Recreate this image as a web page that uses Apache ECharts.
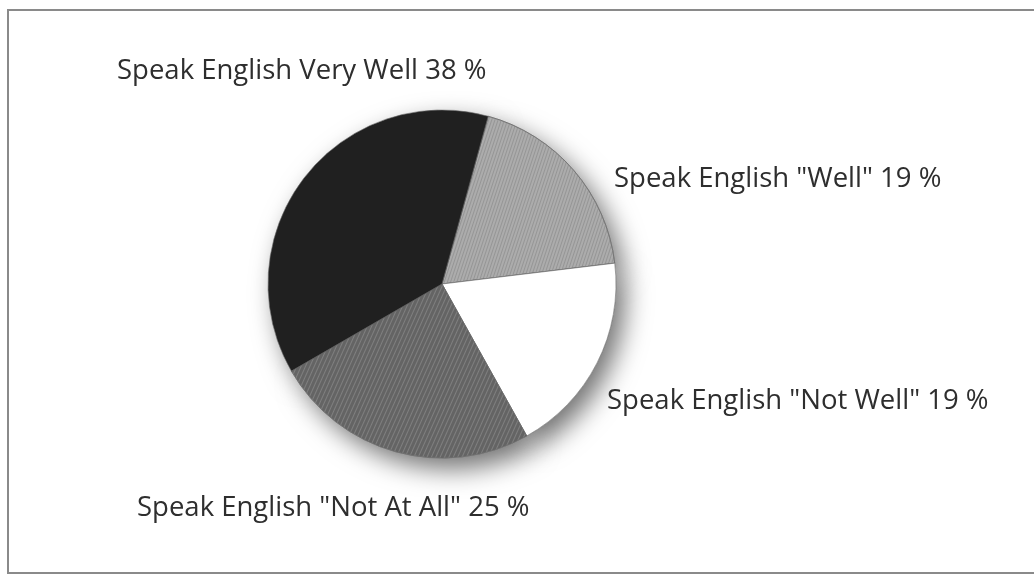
<!DOCTYPE html>
<html>
<head>
<meta charset="utf-8">
<script src="https://cdn.jsdelivr.net/npm/echarts@6/dist/echarts.min.js"></script>
<style>
  html, body { margin: 0; padding: 0; background: #fff; }
  #chart { width: 1034px; height: 576px; }
</style>
</head>
<body>
<div id="chart"></div>
<script>
// slices in clockwise order, starting at the top right
const categories = [
    'Speak English "Well"',
    'Speak English "Not Well"',
    'Speak English "Not At All"',
    'Speak English Very Well'
];
const percents = [19, 19, 25, 38];

const sliceColors = ['#acacac', '#ffffff', '#646464', '#202020'];

// where each label sits (left edge, vertical middle)
const labelSpots = [
    { x: 614, y: 179 },
    { x: 607, y: 401 },
    { x: 137, y: 508 },
    { x: 117, y: 71 }
];

const chart = echarts.init(document.getElementById('chart'), null, { renderer: 'canvas' });

const pieData = categories.map((name, i) => {
    const item = {
        name: name,
        value: percents[i],
        itemStyle: { color: sliceColors[i] }
    };
    if (i === 0) {
        item.itemStyle.decal = {
            symbol: 'rect', color: 'rgba(140,140,140,0.7)',
            dashArrayX: [1, 0], dashArrayY: [1, 2], rotation: -1.25
        };
    }
    if (i === 2) {
        item.itemStyle.decal = {
            symbol: 'rect', color: 'rgba(150,150,150,0.55)',
            dashArrayX: [1, 0], dashArrayY: [1, 3], rotation: -1.15
        };
    }
    return item;
});

const option = {
    backgroundColor: '#ffffff',
    animation: false,
    graphic: [{
        type: 'rect',
        shape: { x: 8, y: 10, width: 1040, height: 563 },
        style: { fill: 'none', stroke: '#8a8a8a', lineWidth: 2 },
        silent: true
    }],
    series: [
        { // shadow underneath
            type: 'pie',
            center: [442, 284],
            radius: 174,
            startAngle: 74.6,
            silent: true,
            z: 1,
            label: { show: false },
            labelLine: { show: false },
            data: percents.map(v => ({ value: v })),
            itemStyle: {
                color: '#ffffff',
                shadowBlur: 26,
                shadowOffsetX: 9,
                shadowOffsetY: 11,
                shadowColor: 'rgba(0,0,0,0.55)'
            }
        },
        {
            type: 'pie',
            center: [442, 284],
            radius: 174,
            startAngle: 74.6,
            z: 2,
            data: pieData,
            itemStyle: { borderColor: '#666', borderWidth: 0.6 },
            label: {
                show: true,
                position: 'outside',
                formatter: p => p.name + ' ' + p.value + ' %',
                color: '#2e2e2e',
                fontFamily: 'Open Sans',
                fontSize: 27.5,
                overflow: 'none'
            },
            labelLine: { show: false },
            labelLayout: p => ({
                x: labelSpots[p.dataIndex].x,
                y: labelSpots[p.dataIndex].y,
                align: 'left',
                verticalAlign: 'middle'
            })
        }
    ]
};

chart.setOption(option);
window.addEventListener('resize', () => chart.resize());
</script>
</body>
</html>
